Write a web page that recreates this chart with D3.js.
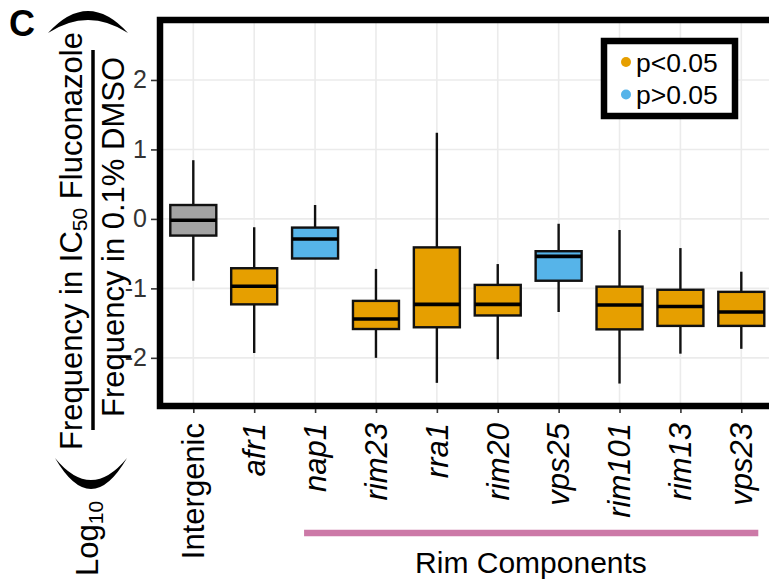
<!DOCTYPE html>
<html>
<head>
<meta charset="utf-8">
<script src="https://cdn.jsdelivr.net/npm/d3@7"></script>
<style>
    body { margin: 0; background: #fff; }
    svg { display: block; font-family: "Liberation Sans", Arial, sans-serif; }
</style>
</head>
<body>
<svg width="769" height="584"></svg>
<script>
var cats = ["Intergenic", "afr1", "nap1", "rim23", "rra1", "rim20", "vps25", "rim101", "rim13", "vps23"]
var lowW = [-0.89, -1.93, -0.57, -2.0, -2.36, -2.02, -1.34, -2.37, -1.94, -1.87]
var q1 = [-0.24, -1.23, -0.57, -1.585, -1.56, -1.39, -0.89, -1.59, -1.54, -1.54]
var med = [-0.02, -0.97, -0.29, -1.44, -1.23, -1.23, -0.54, -1.24, -1.26, -1.34]
var q3 = [0.20, -0.71, -0.125, -1.18, -0.41, -0.95, -0.465, -0.975, -1.02, -1.05]
var highW = [0.845, -0.12, 0.20, -0.72, 1.24, -0.65, -0.07, -0.16, -0.42, -0.76]
var group = ["ctrl", "sig", "ns", "sig", "sig", "sig", "ns", "sig", "sig", "sig"]
var yTicks = [-2, -1, 0, 1, 2]
var legendLabels = ["p<0.05", "p>0.05"]
var rimGroup = ["nap1", "vps23"]

var colors = {ctrl: "#A3A3A3", sig: "#E69F00", ns: "#56B4E9"}

var svg = d3.select("svg")

// Panel (rechts abgeschnitten wie im Original)
var pL = 160, pT = 20, pB = 406, pR = 769
var scX = d3.scalePoint().domain(cats).range([193.3, 741.3])
var scY = d3.scaleLinear().domain([-2.65, 2.82]).range([403, 23])
var boxW = 46

var rows = cats.map((c, i) => ({cat: c, lo: lowW[i], q1: q1[i], med: med[i], q3: q3[i], hi: highW[i], g: group[i]}))

// Gitterlinien
svg.append("g").selectAll("line").data(yTicks).enter().append("line")
    .attr("x1", pL).attr("x2", pR)
    .attr("y1", d => scY(d)).attr("y2", d => scY(d))
    .attr("stroke", "#EBEBEB").attr("stroke-width", 1.6)
svg.append("g").selectAll("line").data(cats).enter().append("line")
    .attr("x1", d => scX(d)).attr("x2", d => scX(d))
    .attr("y1", pT).attr("y2", pB)
    .attr("stroke", "#EBEBEB").attr("stroke-width", 1.6)

// Whisker + Boxen
var bx = svg.append("g").selectAll("g").data(rows).enter().append("g")
bx.append("line")
    .attr("x1", d => scX(d.cat)).attr("x2", d => scX(d.cat))
    .attr("y1", d => scY(d.hi)).attr("y2", d => scY(d.lo))
    .attr("stroke", "#111").attr("stroke-width", 2.4)
bx.append("rect")
    .attr("x", d => scX(d.cat) - boxW / 2).attr("width", boxW)
    .attr("y", d => scY(d.q3)).attr("height", d => scY(d.q1) - scY(d.q3))
    .attr("fill", d => colors[d.g]).attr("stroke", "#111").attr("stroke-width", 2.4)
bx.append("line")
    .attr("x1", d => scX(d.cat) - boxW / 2).attr("x2", d => scX(d.cat) + boxW / 2)
    .attr("y1", d => scY(d.med)).attr("y2", d => scY(d.med))
    .attr("stroke", "#000").attr("stroke-width", 3.6)

// Rahmen: oben, links, unten
svg.append("path")
    .attr("d", "M" + pR + "," + pT + "H" + pL + "V" + pB + "H" + pR)
    .attr("fill", "none").attr("stroke", "#000").attr("stroke-width", 6.5)

// y-Achse
var ya = svg.append("g").attr("transform", "translate(" + (pL - 3) + ",0)")
    .call(d3.axisLeft(scY).tickValues(yTicks).tickSize(6).tickPadding(4).tickFormat(d => String(d)))
ya.select(".domain").remove()
ya.selectAll("line").attr("stroke", "#333").attr("stroke-width", 1.6)
ya.selectAll("text").attr("font-size", 25).attr("fill", "#333").attr("font-family", "Liberation Sans, Arial")

// x-Achse
var xa = svg.append("g").attr("transform", "translate(0," + (pB + 3) + ")")
    .call(d3.axisBottom(scX).tickSize(4).tickFormat(""))
xa.select(".domain").remove()
xa.selectAll("line").attr("stroke", "#333").attr("stroke-width", 1.6)

svg.append("g").selectAll("text").data(cats).enter().append("text")
    .attr("transform", d => "translate(" + scX(d) + ",423) rotate(-90)")
    .attr("text-anchor", "end").attr("dy", "0.35em")
    .attr("font-size", 31).attr("fill", "#000")
    .attr("font-style", d => d == "Intergenic" ? "normal" : "italic")
    .text(d => d)

// Rim Components Balken
svg.append("line")
    .attr("x1", scX(rimGroup[0]) - 11).attr("x2", scX(rimGroup[1]) + 17)
    .attr("y1", 533).attr("y2", 533)
    .attr("stroke", "#CC79A7").attr("stroke-width", 6.5)
svg.append("text")
    .attr("x", 531).attr("y", 573).attr("text-anchor", "middle")
    .attr("font-size", 30).text("Rim Components")

// Legende
var lg = svg.append("g")
lg.append("rect").attr("x", 604).attr("y", 41).attr("width", 131).attr("height", 75)
    .attr("fill", "#fff").attr("stroke", "#000").attr("stroke-width", 6.5)
var li = lg.selectAll("g").data(legendLabels).enter().append("g")
    .attr("transform", (d, i) => "translate(626," + (62 + i * 32.5) + ")")
li.append("circle").attr("r", 5).attr("fill", (d, i) => i == 0 ? colors.sig : colors.ns)
li.append("text").attr("x", 10).attr("dy", "0.36em").attr("font-size", 26.5).text(d => d)

// y-Titel als Bruch
var yt = svg.append("g").attr("transform", "rotate(-90)")
var t1 = yt.append("text").attr("x", -241).attr("y", 82).attr("text-anchor", "middle").attr("font-size", 31)
t1.append("tspan").text("Frequency in IC")
t1.append("tspan").attr("font-size", 21).attr("dy", 5).text("50")
t1.append("tspan").attr("dy", -5).text(" Fluconazole")
yt.append("text").attr("x", -237).attr("y", 124).attr("text-anchor", "middle").attr("font-size", 31)
    .text("Frequency in 0.1% DMSO")
yt.append("line").attr("x1", -430).attr("x2", -50).attr("y1", 93).attr("y2", 93)
    .attr("stroke", "#000").attr("stroke-width", 3.5)
var lg10 = yt.append("text").attr("x", -576).attr("y", 98).attr("font-size", 31)
lg10.append("tspan").text("Log")
lg10.append("tspan").attr("font-size", 21).attr("dy", 5).text("10")

// grosse Klammern
svg.append("path").attr("d", "M55,458 Q91,520 127,458 Q91,502 55,458 Z").attr("fill", "#000")
svg.append("path").attr("d", "M48,33 Q88,-11 128,33 Q88,7 48,33 Z").attr("fill", "#000")

// Panel-Buchstabe
svg.append("text").attr("x", 9).attr("y", 36).attr("font-size", 36).attr("font-weight", "bold").text("C")
</script>
</body>
</html>
